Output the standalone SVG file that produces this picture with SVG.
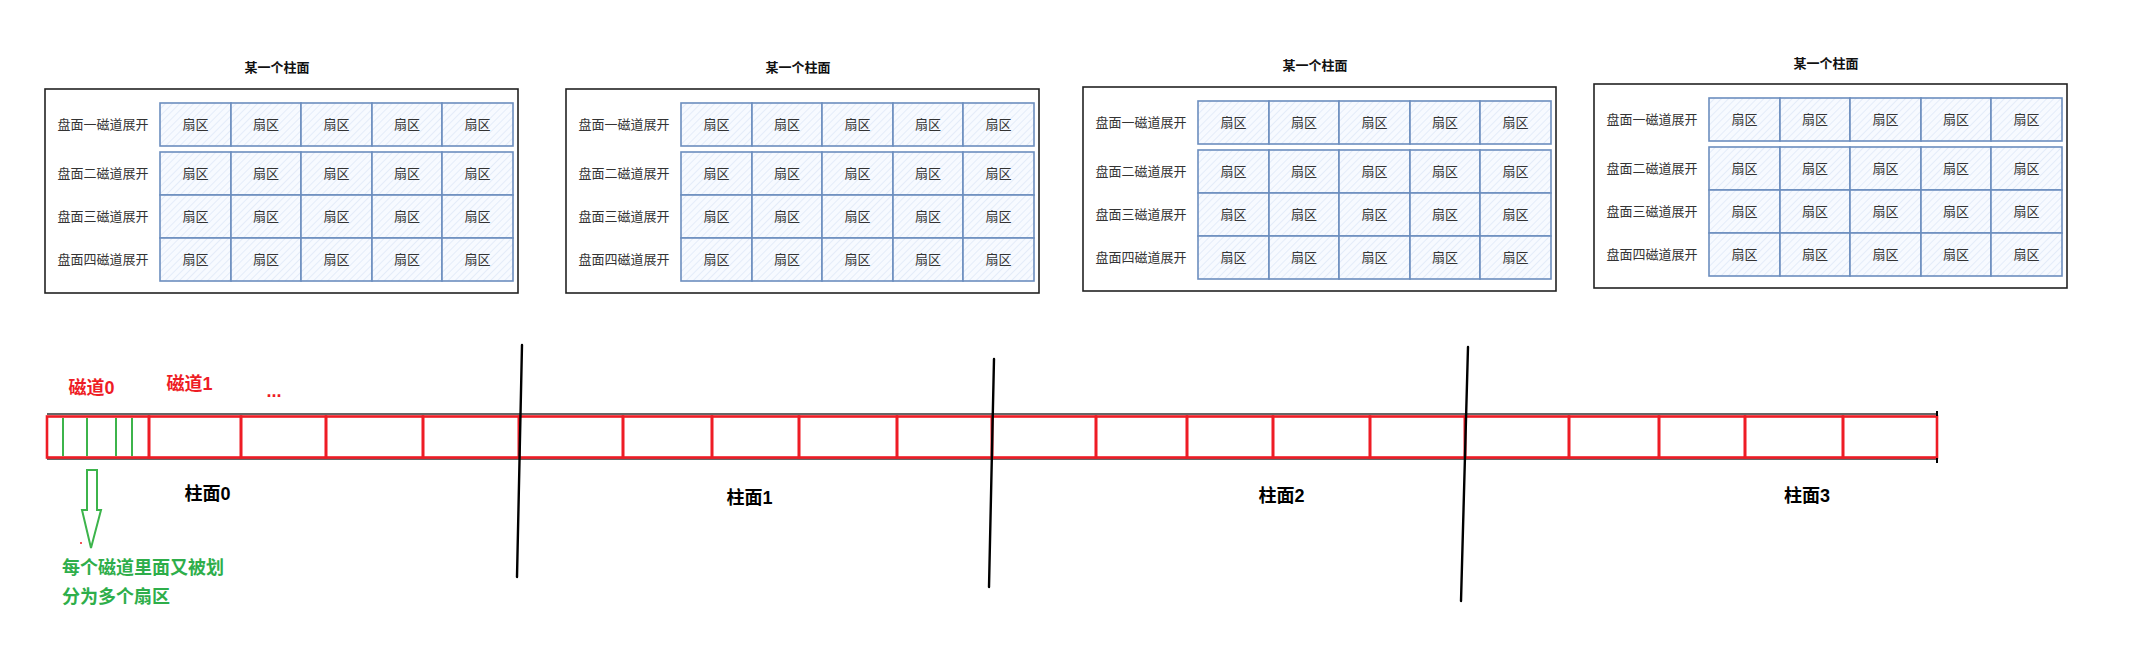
<svg xmlns="http://www.w3.org/2000/svg" width="2153" height="663" viewBox="0 0 2153 663">
<style>
  .box{fill:#fff;stroke:#222;stroke-width:1.6}
  .cell{fill:url(#hatch);stroke:#6c8ebf;stroke-width:1.6}
  .ct{font-family:"Liberation Sans","Noto Sans CJK SC",sans-serif;font-size:13px;fill:#333;text-anchor:middle;dominant-baseline:central}
  .lbl{font-family:"Liberation Sans","Noto Sans CJK SC",sans-serif;font-size:13px;fill:#333;text-anchor:middle;dominant-baseline:central}
  .title{font-family:"Liberation Sans","Noto Sans CJK SC",sans-serif;font-size:13px;font-weight:bold;fill:#111;text-anchor:middle;dominant-baseline:central}
  .red{fill:none;stroke:#ee1c25;stroke-width:2.6}
  .base{stroke:#333;stroke-width:1.4;fill:none}
  .gl{stroke:#3cb44b;stroke-width:2}
  .vl{stroke:#000;stroke-width:2.4;fill:none;stroke-linecap:round}
  .rt{font-family:"Liberation Sans","Noto Sans CJK SC",sans-serif;font-size:18px;font-weight:bold;fill:#ee1c25;text-anchor:middle;dominant-baseline:central}
  .bt{font-family:"Liberation Sans","Noto Sans CJK SC",sans-serif;font-size:18px;font-weight:bold;fill:#000;text-anchor:middle;dominant-baseline:central}
  .gt{font-family:"Liberation Sans","Noto Sans CJK SC",sans-serif;font-size:18px;font-weight:bold;fill:#2eae4a;dominant-baseline:central}
</style>
<defs>
  <pattern id="hatch" patternUnits="userSpaceOnUse" width="5" height="5" patternTransform="rotate(45)">
    <rect width="5" height="5" fill="#f7faff"/>
    <line x1="0" y1="0" x2="0" y2="5" stroke="#dce7f7" stroke-width="1.4"/>
  </pattern>
</defs>
<rect width="2153" height="663" fill="#fff"/>

<g id="panel1" transform="translate(45,89)">
  <text class="title" x="232" y="-22">某一个柱面</text>
  <rect class="box" x="0" y="0" width="473" height="204"/>
  <text class="lbl" x="58" y="35.5">盘面一磁道展开</text>
  <text class="lbl" x="58" y="84.5">盘面二磁道展开</text>
  <text class="lbl" x="58" y="127.5">盘面三磁道展开</text>
  <text class="lbl" x="58" y="170.5">盘面四磁道展开</text>
  <rect class="cell" x="115" y="14" width="71" height="43"/><rect class="cell" x="186" y="14" width="70" height="43"/><rect class="cell" x="256" y="14" width="71" height="43"/><rect class="cell" x="327" y="14" width="70" height="43"/><rect class="cell" x="397" y="14" width="71" height="43"/>
  <rect class="cell" x="115" y="63" width="71" height="43"/><rect class="cell" x="186" y="63" width="70" height="43"/><rect class="cell" x="256" y="63" width="71" height="43"/><rect class="cell" x="327" y="63" width="70" height="43"/><rect class="cell" x="397" y="63" width="71" height="43"/>
  <rect class="cell" x="115" y="106" width="71" height="43"/><rect class="cell" x="186" y="106" width="70" height="43"/><rect class="cell" x="256" y="106" width="71" height="43"/><rect class="cell" x="327" y="106" width="70" height="43"/><rect class="cell" x="397" y="106" width="71" height="43"/>
  <rect class="cell" x="115" y="149" width="71" height="43"/><rect class="cell" x="186" y="149" width="70" height="43"/><rect class="cell" x="256" y="149" width="71" height="43"/><rect class="cell" x="327" y="149" width="70" height="43"/><rect class="cell" x="397" y="149" width="71" height="43"/>
  <text class="ct" x="150.5" y="35.5">扇区</text><text class="ct" x="221" y="35.5">扇区</text><text class="ct" x="291.5" y="35.5">扇区</text><text class="ct" x="362" y="35.5">扇区</text><text class="ct" x="432.5" y="35.5">扇区</text>
  <text class="ct" x="150.5" y="84.5">扇区</text><text class="ct" x="221" y="84.5">扇区</text><text class="ct" x="291.5" y="84.5">扇区</text><text class="ct" x="362" y="84.5">扇区</text><text class="ct" x="432.5" y="84.5">扇区</text>
  <text class="ct" x="150.5" y="127.5">扇区</text><text class="ct" x="221" y="127.5">扇区</text><text class="ct" x="291.5" y="127.5">扇区</text><text class="ct" x="362" y="127.5">扇区</text><text class="ct" x="432.5" y="127.5">扇区</text>
  <text class="ct" x="150.5" y="170.5">扇区</text><text class="ct" x="221" y="170.5">扇区</text><text class="ct" x="291.5" y="170.5">扇区</text><text class="ct" x="362" y="170.5">扇区</text><text class="ct" x="432.5" y="170.5">扇区</text>
</g>

<g id="panel2" transform="translate(566,89)">
  <text class="title" x="232" y="-22">某一个柱面</text>
  <rect class="box" x="0" y="0" width="473" height="204"/>
  <text class="lbl" x="58" y="35.5">盘面一磁道展开</text>
  <text class="lbl" x="58" y="84.5">盘面二磁道展开</text>
  <text class="lbl" x="58" y="127.5">盘面三磁道展开</text>
  <text class="lbl" x="58" y="170.5">盘面四磁道展开</text>
  <rect class="cell" x="115" y="14" width="71" height="43"/><rect class="cell" x="186" y="14" width="70" height="43"/><rect class="cell" x="256" y="14" width="71" height="43"/><rect class="cell" x="327" y="14" width="70" height="43"/><rect class="cell" x="397" y="14" width="71" height="43"/>
  <rect class="cell" x="115" y="63" width="71" height="43"/><rect class="cell" x="186" y="63" width="70" height="43"/><rect class="cell" x="256" y="63" width="71" height="43"/><rect class="cell" x="327" y="63" width="70" height="43"/><rect class="cell" x="397" y="63" width="71" height="43"/>
  <rect class="cell" x="115" y="106" width="71" height="43"/><rect class="cell" x="186" y="106" width="70" height="43"/><rect class="cell" x="256" y="106" width="71" height="43"/><rect class="cell" x="327" y="106" width="70" height="43"/><rect class="cell" x="397" y="106" width="71" height="43"/>
  <rect class="cell" x="115" y="149" width="71" height="43"/><rect class="cell" x="186" y="149" width="70" height="43"/><rect class="cell" x="256" y="149" width="71" height="43"/><rect class="cell" x="327" y="149" width="70" height="43"/><rect class="cell" x="397" y="149" width="71" height="43"/>
  <text class="ct" x="150.5" y="35.5">扇区</text><text class="ct" x="221" y="35.5">扇区</text><text class="ct" x="291.5" y="35.5">扇区</text><text class="ct" x="362" y="35.5">扇区</text><text class="ct" x="432.5" y="35.5">扇区</text>
  <text class="ct" x="150.5" y="84.5">扇区</text><text class="ct" x="221" y="84.5">扇区</text><text class="ct" x="291.5" y="84.5">扇区</text><text class="ct" x="362" y="84.5">扇区</text><text class="ct" x="432.5" y="84.5">扇区</text>
  <text class="ct" x="150.5" y="127.5">扇区</text><text class="ct" x="221" y="127.5">扇区</text><text class="ct" x="291.5" y="127.5">扇区</text><text class="ct" x="362" y="127.5">扇区</text><text class="ct" x="432.5" y="127.5">扇区</text>
  <text class="ct" x="150.5" y="170.5">扇区</text><text class="ct" x="221" y="170.5">扇区</text><text class="ct" x="291.5" y="170.5">扇区</text><text class="ct" x="362" y="170.5">扇区</text><text class="ct" x="432.5" y="170.5">扇区</text>
</g>

<g id="panel3" transform="translate(1083,87)">
  <text class="title" x="232" y="-22">某一个柱面</text>
  <rect class="box" x="0" y="0" width="473" height="204"/>
  <text class="lbl" x="58" y="35.5">盘面一磁道展开</text>
  <text class="lbl" x="58" y="84.5">盘面二磁道展开</text>
  <text class="lbl" x="58" y="127.5">盘面三磁道展开</text>
  <text class="lbl" x="58" y="170.5">盘面四磁道展开</text>
  <rect class="cell" x="115" y="14" width="71" height="43"/><rect class="cell" x="186" y="14" width="70" height="43"/><rect class="cell" x="256" y="14" width="71" height="43"/><rect class="cell" x="327" y="14" width="70" height="43"/><rect class="cell" x="397" y="14" width="71" height="43"/>
  <rect class="cell" x="115" y="63" width="71" height="43"/><rect class="cell" x="186" y="63" width="70" height="43"/><rect class="cell" x="256" y="63" width="71" height="43"/><rect class="cell" x="327" y="63" width="70" height="43"/><rect class="cell" x="397" y="63" width="71" height="43"/>
  <rect class="cell" x="115" y="106" width="71" height="43"/><rect class="cell" x="186" y="106" width="70" height="43"/><rect class="cell" x="256" y="106" width="71" height="43"/><rect class="cell" x="327" y="106" width="70" height="43"/><rect class="cell" x="397" y="106" width="71" height="43"/>
  <rect class="cell" x="115" y="149" width="71" height="43"/><rect class="cell" x="186" y="149" width="70" height="43"/><rect class="cell" x="256" y="149" width="71" height="43"/><rect class="cell" x="327" y="149" width="70" height="43"/><rect class="cell" x="397" y="149" width="71" height="43"/>
  <text class="ct" x="150.5" y="35.5">扇区</text><text class="ct" x="221" y="35.5">扇区</text><text class="ct" x="291.5" y="35.5">扇区</text><text class="ct" x="362" y="35.5">扇区</text><text class="ct" x="432.5" y="35.5">扇区</text>
  <text class="ct" x="150.5" y="84.5">扇区</text><text class="ct" x="221" y="84.5">扇区</text><text class="ct" x="291.5" y="84.5">扇区</text><text class="ct" x="362" y="84.5">扇区</text><text class="ct" x="432.5" y="84.5">扇区</text>
  <text class="ct" x="150.5" y="127.5">扇区</text><text class="ct" x="221" y="127.5">扇区</text><text class="ct" x="291.5" y="127.5">扇区</text><text class="ct" x="362" y="127.5">扇区</text><text class="ct" x="432.5" y="127.5">扇区</text>
  <text class="ct" x="150.5" y="170.5">扇区</text><text class="ct" x="221" y="170.5">扇区</text><text class="ct" x="291.5" y="170.5">扇区</text><text class="ct" x="362" y="170.5">扇区</text><text class="ct" x="432.5" y="170.5">扇区</text>
</g>

<g id="panel4" transform="translate(1594,84)">
  <text class="title" x="232" y="-21">某一个柱面</text>
  <rect class="box" x="0" y="0" width="473" height="204"/>
  <text class="lbl" x="58" y="35.5">盘面一磁道展开</text>
  <text class="lbl" x="58" y="84.5">盘面二磁道展开</text>
  <text class="lbl" x="58" y="127.5">盘面三磁道展开</text>
  <text class="lbl" x="58" y="170.5">盘面四磁道展开</text>
  <rect class="cell" x="115" y="14" width="71" height="43"/><rect class="cell" x="186" y="14" width="70" height="43"/><rect class="cell" x="256" y="14" width="71" height="43"/><rect class="cell" x="327" y="14" width="70" height="43"/><rect class="cell" x="397" y="14" width="71" height="43"/>
  <rect class="cell" x="115" y="63" width="71" height="43"/><rect class="cell" x="186" y="63" width="70" height="43"/><rect class="cell" x="256" y="63" width="71" height="43"/><rect class="cell" x="327" y="63" width="70" height="43"/><rect class="cell" x="397" y="63" width="71" height="43"/>
  <rect class="cell" x="115" y="106" width="71" height="43"/><rect class="cell" x="186" y="106" width="70" height="43"/><rect class="cell" x="256" y="106" width="71" height="43"/><rect class="cell" x="327" y="106" width="70" height="43"/><rect class="cell" x="397" y="106" width="71" height="43"/>
  <rect class="cell" x="115" y="149" width="71" height="43"/><rect class="cell" x="186" y="149" width="70" height="43"/><rect class="cell" x="256" y="149" width="71" height="43"/><rect class="cell" x="327" y="149" width="70" height="43"/><rect class="cell" x="397" y="149" width="71" height="43"/>
  <text class="ct" x="150.5" y="35.5">扇区</text><text class="ct" x="221" y="35.5">扇区</text><text class="ct" x="291.5" y="35.5">扇区</text><text class="ct" x="362" y="35.5">扇区</text><text class="ct" x="432.5" y="35.5">扇区</text>
  <text class="ct" x="150.5" y="84.5">扇区</text><text class="ct" x="221" y="84.5">扇区</text><text class="ct" x="291.5" y="84.5">扇区</text><text class="ct" x="362" y="84.5">扇区</text><text class="ct" x="432.5" y="84.5">扇区</text>
  <text class="ct" x="150.5" y="127.5">扇区</text><text class="ct" x="221" y="127.5">扇区</text><text class="ct" x="291.5" y="127.5">扇区</text><text class="ct" x="362" y="127.5">扇区</text><text class="ct" x="432.5" y="127.5">扇区</text>
  <text class="ct" x="150.5" y="170.5">扇区</text><text class="ct" x="221" y="170.5">扇区</text><text class="ct" x="291.5" y="170.5">扇区</text><text class="ct" x="362" y="170.5">扇区</text><text class="ct" x="432.5" y="170.5">扇区</text>
</g>

<g id="track-strip">
  <line class="base" x1="47" y1="414" x2="1937" y2="414"/>
  <line class="base" x1="47" y1="459" x2="1937" y2="459"/>
  <rect class="red" x="47" y="416.5" width="102" height="41"/>
  <rect class="red" x="149" y="416.5" width="92" height="41"/>
  <rect class="red" x="241" y="416.5" width="85" height="41"/>
  <rect class="red" x="326" y="416.5" width="97" height="41"/>
  <rect class="red" x="423" y="416.5" width="96" height="41"/>
  <rect class="red" x="519" y="416.5" width="104" height="41"/>
  <rect class="red" x="623" y="416.5" width="89" height="41"/>
  <rect class="red" x="712" y="416.5" width="87" height="41"/>
  <rect class="red" x="799" y="416.5" width="98" height="41"/>
  <rect class="red" x="897" y="416.5" width="95" height="41"/>
  <rect class="red" x="992" y="416.5" width="104" height="41"/>
  <rect class="red" x="1096" y="416.5" width="91" height="41"/>
  <rect class="red" x="1187" y="416.5" width="86" height="41"/>
  <rect class="red" x="1273" y="416.5" width="97" height="41"/>
  <rect class="red" x="1370" y="416.5" width="95" height="41"/>
  <rect class="red" x="1465" y="416.5" width="104" height="41"/>
  <rect class="red" x="1569" y="416.5" width="90" height="41"/>
  <rect class="red" x="1659" y="416.5" width="86" height="41"/>
  <rect class="red" x="1745" y="416.5" width="98" height="41"/>
  <rect class="red" x="1843" y="416.5" width="94" height="41"/>
  <line class="gl" x1="63" y1="418" x2="63" y2="456"/>
  <line class="gl" x1="87" y1="418" x2="87" y2="456"/>
  <line class="gl" x1="116" y1="418" x2="116" y2="456"/>
  <line class="gl" x1="132" y1="418" x2="132" y2="456"/>
  <line stroke="#000" stroke-width="2" x1="1937" y1="411" x2="1937" y2="416"/>
  <line stroke="#000" stroke-width="2" x1="1937" y1="458" x2="1937" y2="463"/>
</g>

<g id="dividers">
  <line class="vl" x1="522" y1="345" x2="517" y2="577"/>
  <line class="vl" x1="994" y1="359" x2="989" y2="587"/>
  <line class="vl" x1="1468" y1="347" x2="1461" y2="601"/>
</g>

<g id="labels">
  <text class="rt" x="91.5" y="388">磁道0</text>
  <text class="rt" x="189.5" y="384">磁道1</text>
  <text class="rt" x="274" y="391">...</text>
  <text class="bt" x="207.5" y="494">柱面0</text>
  <text class="bt" x="749.5" y="498">柱面1</text>
  <text class="bt" x="1281.5" y="496">柱面2</text>
  <text class="bt" x="1807" y="496">柱面3</text>
  <text class="gt" x="62" y="568">每个磁道里面又被划</text>
  <text class="gt" x="62" y="597">分为多个扇区</text>
  <circle cx="81" cy="543" r="1" fill="#ee1c25"/>
</g>

<g id="connectors">
  <polygon points="87,470 97,470 97,510 101,510 91,548 82,510 87,510" fill="#fff" stroke="#3cb44b" stroke-width="2" stroke-linejoin="miter"/>
</g>
</svg>
